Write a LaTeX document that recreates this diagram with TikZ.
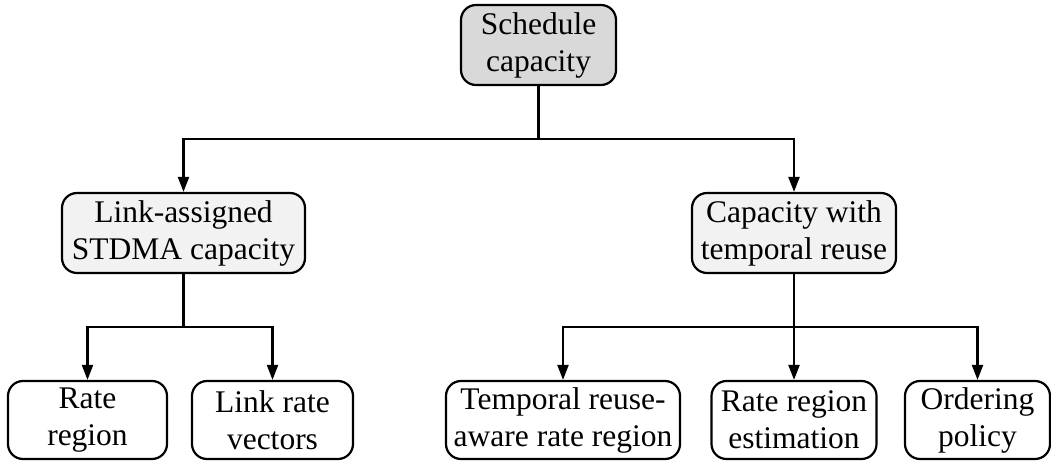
\documentclass[tikz,border=0pt]{standalone}
\usepackage{fontspec}
\setmainfont{Liberation Serif}
\usetikzlibrary{arrows.meta}
\begin{document}
\begin{tikzpicture}[x=1pt,y=-1pt,
  box/.style={draw=black, line width=2.2pt, rounded corners=15pt, align=center,
    inner sep=0pt, font=\fontsize{31.5}{37}\selectfont},
  rootbox/.style={box, fill=black!15},
  midbox/.style={box, fill=black!5, minimum height=80pt},
  leafbox/.style={box, fill=white, minimum height=78pt},
  link/.style={line width=2.2pt},
  feed/.style={link, -{Triangle[length=15pt,width=11pt]}}]
\useasboundingbox (0,0) rectangle (1051,462);

% hierarchy of capacity notions
\node[rootbox, minimum width=155pt, minimum height=80pt] (root) at (538.5,45) {Schedule\\capacity};
\node[midbox, minimum width=243pt] (lstdma) at (183.5,233) {Link-assigned\\STDMA capacity};
\node[midbox, minimum width=204pt] (treuse) at (794,233) {Capacity with\\temporal reuse};

\node[leafbox, minimum width=159pt] (rr)  at (87.5,420)  {Rate\\region};
\node[leafbox, minimum width=161pt] (lrv) at (272.5,420) {Link rate\\vectors};
\node[leafbox, minimum width=234pt] (tra) at (563,420)   {Temporal reuse-\\aware rate region};
\node[leafbox, minimum width=165pt] (rre) at (794,420)   {Rate region\\estimation};
\node[leafbox, minimum width=145pt] (op)  at (977.5,420) {Ordering\\policy};

% bus levels
\coordinate (bus1) at (538.5,139);
\coordinate (busL) at (183.5,327);
\coordinate (busR) at (794,327);

\draw[link] (root.south) -- (bus1);
\draw[feed] (bus1) -| (lstdma.north);
\draw[feed] (bus1) -| (treuse.north);

\draw[link] (lstdma.south) -- (busL);
\draw[feed] (busL) -| (rr.north);
\draw[feed] (busL) -| (lrv.north);

\draw[feed] (treuse.south) -- (rre.north);
\draw[feed] (busR) -| (tra.north);
\draw[feed] (busR) -| (op.north);
\end{tikzpicture}
\end{document}
